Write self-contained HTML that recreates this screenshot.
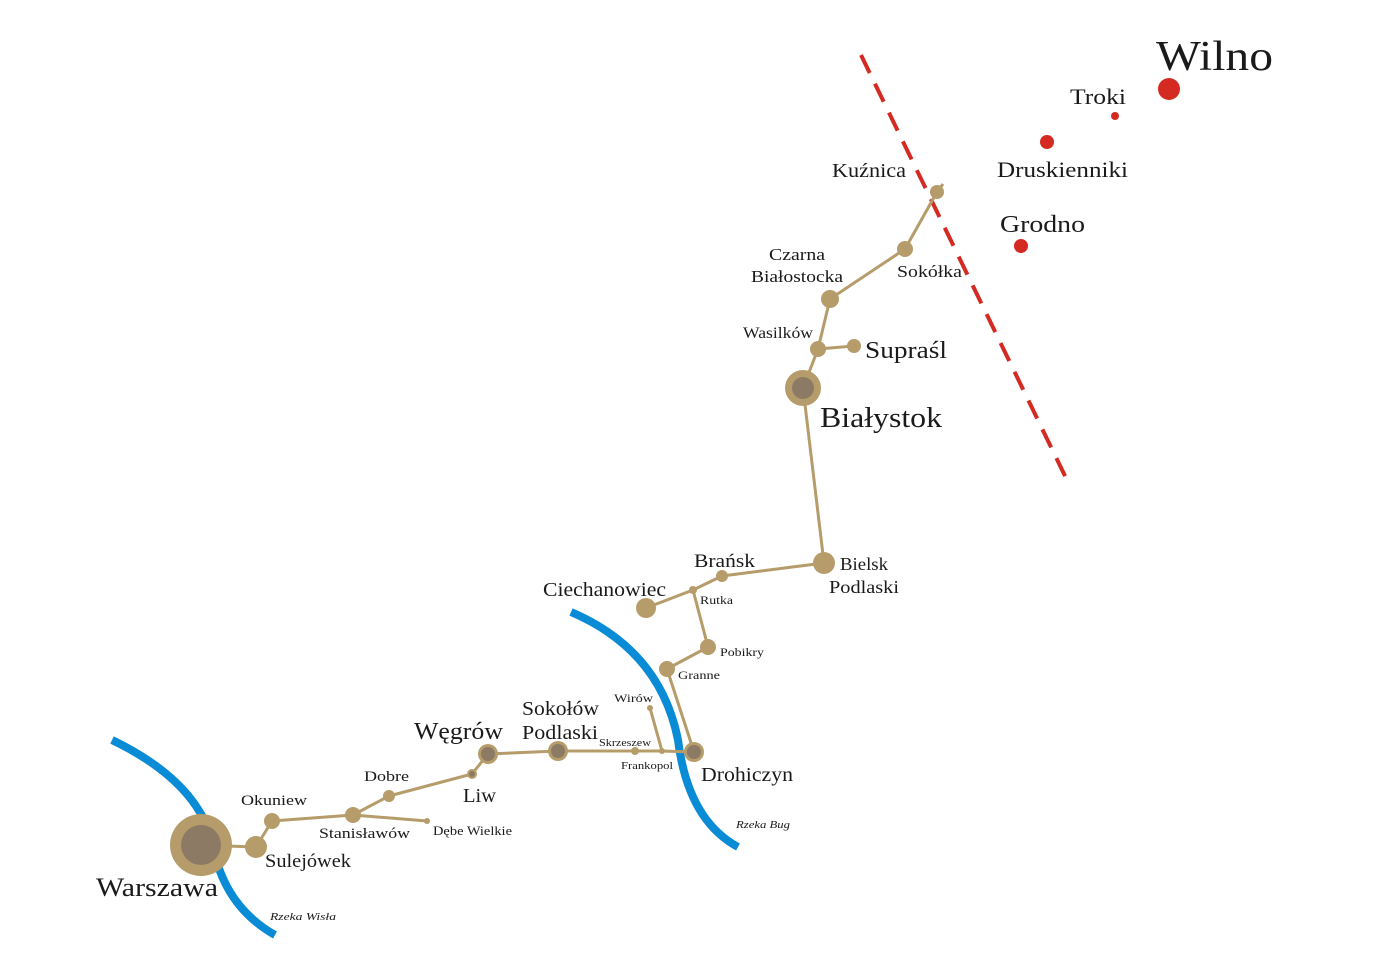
<!DOCTYPE html>
<html><head><meta charset="utf-8"><style>
html,body{margin:0;padding:0;background:#fff;}
svg{display:block;}
text{font-family:"Liberation Serif","DejaVu Serif",serif;fill:#1a1a1a;}
</style></head><body>
<svg width="1387" height="980" viewBox="0 0 1387 980" xmlns="http://www.w3.org/2000/svg">
<path d="M112,740 Q195,780 212,840 Q222,905 275,935" fill="none" stroke="#0a8bd6" stroke-width="8"/>
<path d="M571,612 Q660,650 678,740 Q688,820 738,847" fill="none" stroke="#0a8bd6" stroke-width="8"/>
<line x1="861" y1="55" x2="1066" y2="478" stroke="#d42a22" stroke-width="4" stroke-dasharray="20,12"/>
<g fill="none" stroke="#b59c6a" stroke-width="3" stroke-linejoin="round">
<polyline points="201,845 256,847 272,821 353,815 427,821"/>
<polyline points="353,815 389,796 472,774 488,754 558,751 635,751 662,751 694,752"/>
<polyline points="650,708 662,751"/>
<polyline points="694,752 667,669 708,647 693,590 722,576 824,563 803,388 818,349 854,346"/>
<polyline points="693,590 646,608"/>
<polyline points="818,349 830,299 905,249 937,192 943,184"/>
</g>
<g fill="#b59c6a">
<circle cx="201" cy="845" r="31"/><circle cx="256" cy="847" r="11"/><circle cx="272" cy="821" r="8"/>
<circle cx="353" cy="815" r="8"/><circle cx="389" cy="796" r="6"/><circle cx="472" cy="774" r="5"/>
<circle cx="427" cy="821" r="3"/><circle cx="488" cy="754" r="10"/><circle cx="558" cy="751" r="10"/>
<circle cx="635" cy="751" r="4"/><circle cx="662" cy="751" r="3"/><circle cx="650" cy="708" r="3"/>
<circle cx="694" cy="752" r="10"/><circle cx="667" cy="669" r="8"/><circle cx="708" cy="647" r="8"/>
<circle cx="693" cy="590" r="4"/><circle cx="722" cy="576" r="6"/><circle cx="646" cy="608" r="10"/>
<circle cx="824" cy="563" r="11"/><circle cx="803" cy="388" r="18"/><circle cx="818" cy="349" r="8"/>
<circle cx="854" cy="346" r="7"/><circle cx="830" cy="299" r="9"/><circle cx="905" cy="249" r="8"/>
<circle cx="937" cy="192" r="7"/>
</g>
<g fill="#8c7a65">
<circle cx="201" cy="845" r="20"/><circle cx="488" cy="754" r="7"/><circle cx="558" cy="751" r="7"/>
<circle cx="694" cy="752" r="7"/><circle cx="803" cy="388" r="11"/><circle cx="472" cy="774" r="3"/>
</g>
<g fill="#d42a22">
<circle cx="1169" cy="89" r="11"/><circle cx="1115" cy="116" r="4"/><circle cx="1047" cy="142" r="7"/><circle cx="1021" cy="246" r="7"/>
</g>
<g lengthAdjust="spacingAndGlyphs">
<text x="1156" y="70" font-size="42" textLength="117" lengthAdjust="spacingAndGlyphs">Wilno</text>
<text x="1070" y="104" font-size="22" textLength="56" lengthAdjust="spacingAndGlyphs">Troki</text>
<text x="997" y="177" font-size="22" textLength="131" lengthAdjust="spacingAndGlyphs">Druskienniki</text>
<text x="1000" y="232" font-size="24" textLength="85" lengthAdjust="spacingAndGlyphs">Grodno</text>
<text x="832" y="177" font-size="20" textLength="74" lengthAdjust="spacingAndGlyphs">Kuźnica</text>
<text x="769" y="260" font-size="17" textLength="56" lengthAdjust="spacingAndGlyphs">Czarna</text>
<text x="751" y="282" font-size="17" textLength="92" lengthAdjust="spacingAndGlyphs">Białostocka</text>
<text x="897" y="277" font-size="17" textLength="65" lengthAdjust="spacingAndGlyphs">Sokółka</text>
<text x="743" y="338" font-size="16" textLength="70" lengthAdjust="spacingAndGlyphs">Wasilków</text>
<text x="865" y="358" font-size="24" textLength="82" lengthAdjust="spacingAndGlyphs">Supraśl</text>
<text x="820" y="427" font-size="28" textLength="122" lengthAdjust="spacingAndGlyphs">Białystok</text>
<text x="840" y="570" font-size="18" textLength="48" lengthAdjust="spacingAndGlyphs">Bielsk</text>
<text x="829" y="593" font-size="18" textLength="70" lengthAdjust="spacingAndGlyphs">Podlaski</text>
<text x="694" y="567" font-size="19" textLength="61" lengthAdjust="spacingAndGlyphs">Brańsk</text>
<text x="543" y="596" font-size="20" textLength="123" lengthAdjust="spacingAndGlyphs">Ciechanowiec</text>
<text x="700" y="604" font-size="12" textLength="33" lengthAdjust="spacingAndGlyphs">Rutka</text>
<text x="720" y="656" font-size="12" textLength="44" lengthAdjust="spacingAndGlyphs">Pobikry</text>
<text x="678" y="679" font-size="12" textLength="42" lengthAdjust="spacingAndGlyphs">Granne</text>
<text x="614" y="702" font-size="12" textLength="39" lengthAdjust="spacingAndGlyphs">Wirów</text>
<text x="522" y="715" font-size="20" textLength="77" lengthAdjust="spacingAndGlyphs">Sokołów</text>
<text x="522" y="739" font-size="20" textLength="76" lengthAdjust="spacingAndGlyphs">Podlaski</text>
<text x="599" y="746" font-size="11" textLength="52" lengthAdjust="spacingAndGlyphs">Skrzeszew</text>
<text x="621" y="769" font-size="11" textLength="52" lengthAdjust="spacingAndGlyphs">Frankopol</text>
<text x="701" y="781" font-size="20" textLength="92" lengthAdjust="spacingAndGlyphs">Drohiczyn</text>
<text x="736" y="828" font-size="11" font-style="italic" textLength="54" lengthAdjust="spacingAndGlyphs">Rzeka Bug</text>
<text x="414" y="739" font-size="24" textLength="89" lengthAdjust="spacingAndGlyphs">Węgrów</text>
<text x="364" y="781" font-size="15" textLength="45" lengthAdjust="spacingAndGlyphs">Dobre</text>
<text x="463" y="802" font-size="20" textLength="33" lengthAdjust="spacingAndGlyphs">Liw</text>
<text x="241" y="805" font-size="15" textLength="66" lengthAdjust="spacingAndGlyphs">Okuniew</text>
<text x="319" y="838" font-size="15" textLength="91" lengthAdjust="spacingAndGlyphs">Stanisławów</text>
<text x="433" y="835" font-size="13" textLength="79" lengthAdjust="spacingAndGlyphs">Dębe Wielkie</text>
<text x="265" y="867" font-size="19" textLength="86" lengthAdjust="spacingAndGlyphs">Sulejówek</text>
<text x="96" y="896" font-size="26" textLength="122" lengthAdjust="spacingAndGlyphs">Warszawa</text>
<text x="270" y="920" font-size="11" font-style="italic" textLength="66" lengthAdjust="spacingAndGlyphs">Rzeka Wisła</text>
</g>
</svg>
</body></html>
